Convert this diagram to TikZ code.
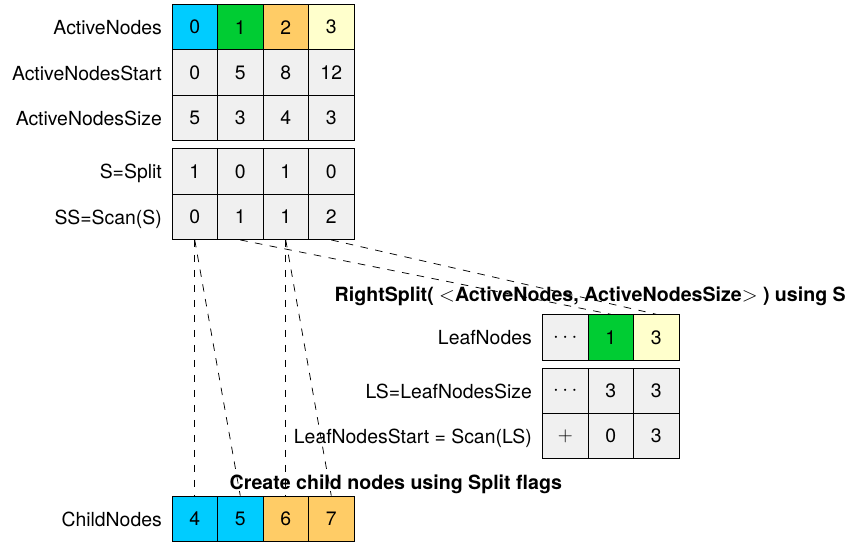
\documentclass[tikz,border=0pt]{standalone}
\usepackage{fontspec}
\setmainfont{TeX Gyre Heros}

\definecolor{cellcyan}{HTML}{00CCFF}
\definecolor{cellgreen}{HTML}{00CC33}
\definecolor{cellorange}{HTML}{FFCC66}
\definecolor{cellyellow}{HTML}{FFFFCC}
\definecolor{cellgray}{HTML}{F0F0F0}

\tikzset{
  txt/.style={font=\fontsize{19.4}{23}\selectfont},
  cell/.style={txt, draw=black, line width=0.9pt, fill=cellgray,
    minimum width=45.5pt, minimum height=45.4pt, inner sep=0pt},
  rowlabel/.style={txt, anchor=base east, inner sep=0pt},
  heading/.style={font=\fontsize{19.6}{23}\selectfont\bfseries,
    anchor=base west, inner sep=0pt},
  link/.style={line width=0.75pt, dash pattern=on 7.5pt off 7.5pt},
}

\begin{document}
\begin{tikzpicture}[x=1pt, y=-1pt]
  \useasboundingbox (0,0) rectangle (851,541);

  % active node table
  \foreach \v/\c [count=\i from 0] in {0/cellcyan,1/cellgreen,2/cellorange,3/cellyellow}
    \node[cell, fill=\c] (an\i) at ({194.75+45.5*\i},27.2) {\v};
  \foreach \v [count=\i from 0] in {0,5,8,12}
    \node[cell] (ans\i) at ({194.75+45.5*\i},72.6) {\v};
  \foreach \v [count=\i from 0] in {5,3,4,3}
    \node[cell] (anz\i) at ({194.75+45.5*\i},118.0) {\v};

  % split flags and their scan
  \foreach \v [count=\i from 0] in {1,0,1,0}
    \node[cell] (sp\i) at ({194.75+45.5*\i},171.4) {\v};
  \foreach \v [count=\i from 0] in {0,1,1,2}
    \node[cell] (ss\i) at ({194.75+45.5*\i},216.8) {\v};

  % leaf table
  \node[cell] (lf0) at (565.25,337.4) {$\cdots$};
  \node[cell, fill=cellgreen] (lf1) at (610.75,337.4) {1};
  \node[cell, fill=cellyellow] (lf2) at (656.25,337.4) {3};
  \node[cell] (ls0) at (565.25,390.7) {$\cdots$};
  \node[cell] (ls1) at (610.75,390.7) {3};
  \node[cell] (ls2) at (656.25,390.7) {3};
  \node[cell] (lst0) at (565.25,436.1) {$+$};
  \node[cell] (lst1) at (610.75,436.1) {0};
  \node[cell] (lst2) at (656.25,436.1) {3};

  % child nodes
  \foreach \v/\c [count=\i from 0] in {4/cellcyan,5/cellcyan,6/cellorange,7/cellorange}
    \node[cell, fill=\c] (cn\i) at ({194.75+45.5*\i},518.7) {\v};

  % row labels
  \node[rowlabel] (l-an)  at (162,34.7)  {ActiveNodes};
  \node[rowlabel] (l-ans) at (162,80.1)  {ActiveNodesStart};
  \node[rowlabel] (l-anz) at (162,125.5) {ActiveNodesSize};
  \node[rowlabel] (l-sp)  at (162,178.9) {S=Split};
  \node[rowlabel] (l-ss)  at (162,224.3) {SS=Scan(S)};
  \node[rowlabel] (l-lf)  at (532,344.9) {LeafNodes};
  \node[rowlabel] (l-ls)  at (532,398.2) {LS=LeafNodesSize};
  \node[rowlabel] (l-lst) at (532,443.6) {LeafNodesStart = Scan(LS)};
  \node[rowlabel] (l-cn)  at (162,526.2) {ChildNodes};

  % headings
  \node[heading] (h-right) at (334.5,301.7)
    {RightSplit( $<$ActiveNodes, ActiveNodesSize$>$ ) using S};
  \node[heading] (h-child) at (229.5,489.5)
    {Create child nodes using Split flags};

  % scan links
  \draw[link] (ss0.south) -- (cn0.north);
  \draw[link] (ss0.south) -- (cn1.north);
  \draw[link] (ss2.south) -- (cn2.north);
  \draw[link] (ss2.south) -- (cn3.north);
  \draw[link] (ss1.south) -- (lf1.north);
  \draw[link] (ss3.south) -- (lf2.north);
\end{tikzpicture}
\end{document}
